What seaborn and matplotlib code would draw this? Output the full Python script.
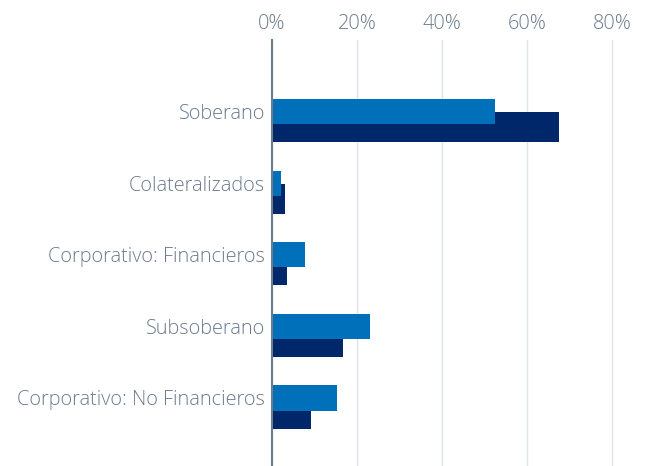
import numpy as np
import pandas as pd
import matplotlib
matplotlib.use("Agg")
import matplotlib.pyplot as plt
import seaborn as sns
from matplotlib.ticker import PercentFormatter

categories = ["Soberano", "Colateralizados", "Corporativo: Financieros",
              "Subsoberano", "Corporativo: No Financieros"]
serie_clara = [52.4, 2.1, 7.8, 23.0, 15.4]
serie_oscura = [67.6, 3.1, 3.5, 16.8, 9.2]

COLOR_CLARO = "#0070BA"
COLOR_OSCURO = "#00276A"
TEXT = "#6B7A8D"

sns.set_style("white")
plt.rcParams["font.family"] = ["Open Sans", "DejaVu Sans"]
plt.rcParams["font.weight"] = "light"

fig = plt.figure(figsize=(6.49, 4.66), dpi=100)
ax = fig.add_axes([272 / 649, 0, 1 - 272 / 649, 1 - 40 / 466])

pos = np.arange(len(categories))
# dark bar sits lower and slightly behind the light one
sns.barplot(x=serie_oscura, y=pos + 0.217, orient="h", native_scale=True,
            width=0.42, color=COLOR_OSCURO, saturation=1, linewidth=0,
            ax=ax, zorder=2)
sns.barplot(x=serie_clara, y=pos, orient="h", native_scale=True,
            width=0.35, color=COLOR_CLARO, saturation=1, linewidth=0,
            ax=ax, zorder=3)

ax.set_xlim(0, 88.7)
ax.set_ylim(4.95, -1.0)
ax.set_xticks([0, 20, 40, 60, 80])
ax.xaxis.set_major_formatter(PercentFormatter(decimals=0))
ax.xaxis.tick_top()
ax.set_yticks(pos)
ax.set_yticklabels(categories)
ax.tick_params(axis="both", length=0, colors=TEXT, labelsize=14.3)
ax.tick_params(axis="x", pad=4)
ax.tick_params(axis="y", pad=5)
ax.grid(axis="x", color="#DDE4EC", linewidth=1, zorder=0)
ax.grid(axis="y", visible=False)
ax.set_axisbelow(True)
for s in ["top", "right", "bottom"]:
    ax.spines[s].set_visible(False)
ax.spines["left"].set_color("#6F7C8A")
ax.spines["left"].set_linewidth(1.5)
ax.spines["left"].set_zorder(4)
ax.set_xlabel("")
ax.set_ylabel("")

fig.savefig("out.png", dpi=100)
